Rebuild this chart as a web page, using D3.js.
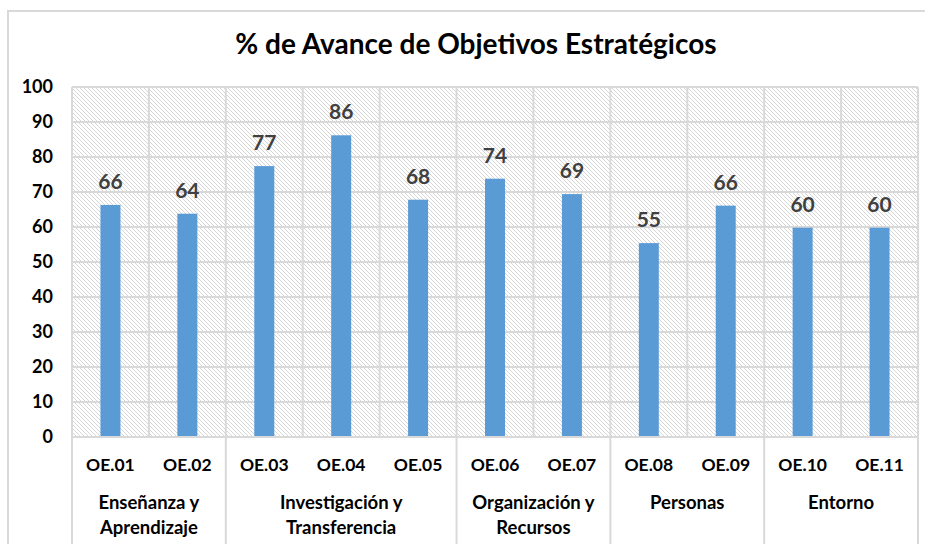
<!DOCTYPE html>
<html>
<head>
<meta charset="utf-8">
<script src="https://cdn.jsdelivr.net/npm/d3@7"></script>
<style>
  body { margin: 0; background: #fff; }
  text { font-family: Lato, 'Open Sans', sans-serif; font-weight: bold; }
</style>
</head>
<body>
<script>
const codes = ['OE.01', 'OE.02', 'OE.03', 'OE.04', 'OE.05', 'OE.06', 'OE.07', 'OE.08', 'OE.09', 'OE.10', 'OE.11']
const values = [66.3, 63.8, 77.4, 86.2, 67.8, 73.8, 69.4, 55.4, 66.1, 59.8, 59.8]
const groups = [['Enseñanza y', 'Aprendizaje'], ['Investigación y', 'Transferencia'], ['Organización y', 'Recursos'], ['Personas'], ['Entorno']]
const groupSizes = [2, 3, 2, 2, 2]
const yTicks = [0, 10, 20, 30, 40, 50, 60, 70, 80, 90, 100]

const W = 925, H = 544
const plotL = 72, plotR = 918, plotT = 87, plotB = 437

const svg = d3.select('body').append('svg').attr('width', W).attr('height', H)

// hatch fill for plot area
const pat = svg.append('defs').append('pattern')
    .attr('id', 'hatch')
    .attr('patternUnits', 'userSpaceOnUse')
    .attr('width', 4).attr('height', 4)
pat.append('path')
    .attr('d', 'M-1,-1 L5,5 M-1,3 L1,5 M3,-1 L5,1')
    .attr('stroke', '#d6d6d6')
    .attr('stroke-width', 1)

// outer chart border
svg.append('rect')
    .attr('x', 8).attr('y', 11).attr('width', 940).attr('height', 560)
    .attr('fill', 'none').attr('stroke', '#d9d9d9').attr('stroke-width', 2)

const x = d3.scaleBand().domain(codes).range([plotL, plotR]).paddingInner(0).paddingOuter(0)
const y = d3.scaleLinear().domain([0, 100]).range([plotB, plotT])

svg.append('rect')
    .attr('x', plotL).attr('y', plotT).attr('width', plotR - plotL).attr('height', plotB - plotT)
    .attr('fill', 'url(#hatch)')

// horizontal grid
svg.append('g').selectAll('line')
    .data(yTicks.filter(d => d > 0))
    .enter().append('line')
        .attr('x1', plotL).attr('x2', plotR)
        .attr('y1', d => y(d)).attr('y2', d => y(d))
        .attr('stroke', '#d9d9d9').attr('stroke-width', 2)

// vertical grid at category boundaries
svg.append('g').selectAll('line')
    .data(codes.concat(['end']))
    .enter().append('line')
        .attr('x1', (d, i) => plotL + i * x.bandwidth())
        .attr('x2', (d, i) => plotL + i * x.bandwidth())
        .attr('y1', plotT).attr('y2', plotB)
        .attr('stroke', '#d9d9d9').attr('stroke-width', 2)

// bars
svg.append('g').selectAll('rect')
    .data(values)
    .enter().append('rect')
        .attr('x', (d, i) => x(codes[i]) + x.bandwidth() / 2 - 10)
        .attr('y', d => y(d))
        .attr('width', 20)
        .attr('height', d => plotB - y(d))
        .attr('fill', '#5b9bd5')

// value labels
svg.append('g').selectAll('text')
    .data(values)
    .enter().append('text')
        .attr('x', (d, i) => x(codes[i]) + x.bandwidth() / 2)
        .attr('y', d => y(d) - 16)
        .attr('text-anchor', 'middle')
        .attr('font-size', 21)
        .attr('fill', '#404040')
        .text(d => Math.round(d))

// x axis line
svg.append('line')
    .attr('x1', plotL).attr('x2', plotR).attr('y1', plotB).attr('y2', plotB)
    .attr('stroke', '#d9d9d9').attr('stroke-width', 2)

// y tick labels
const yAxis = d3.axisLeft(y).tickValues(yTicks).tickSize(0).tickPadding(19)
const gy = svg.append('g').attr('transform', `translate(${plotL},0)`).call(yAxis)
gy.select('.domain').remove()
gy.selectAll('text').attr('font-size', 18).attr('fill', '#000')
    .style('font-family', 'Lato, sans-serif').style('font-weight', 'bold')

// category labels
svg.append('g').selectAll('text')
    .data(codes)
    .enter().append('text')
        .attr('x', d => x(d) + x.bandwidth() / 2)
        .attr('y', 471)
        .attr('text-anchor', 'middle')
        .attr('font-size', 17.5)
        .attr('fill', '#000')
        .text(d => d)

// group separators and labels
let start = 0
const bounds = [0]
groupSizes.forEach(n => { start += n; bounds.push(start) })

svg.append('g').selectAll('line')
    .data(bounds)
    .enter().append('line')
        .attr('x1', d => plotL + d * x.bandwidth())
        .attr('x2', d => plotL + d * x.bandwidth())
        .attr('y1', plotB).attr('y2', H)
        .attr('stroke', '#d9d9d9').attr('stroke-width', 2)

const gl = svg.append('g').selectAll('text')
    .data(groups)
    .enter().append('text')
        .attr('x', (d, i) => plotL + (bounds[i] + bounds[i + 1]) / 2 * x.bandwidth())
        .attr('y', 509)
        .attr('text-anchor', 'middle')
        .attr('font-size', 18.5)
        .attr('fill', '#000')
gl.selectAll('tspan')
    .data(d => d)
    .enter().append('tspan')
        .attr('x', function() { return d3.select(this.parentNode).attr('x') })
        .attr('dy', (d, i) => i === 0 ? 0 : 25)
        .text(d => d)

// title
svg.append('text')
    .attr('x', 476).attr('y', 54)
    .attr('text-anchor', 'middle')
    .attr('font-size', 28)
    .attr('fill', '#000')
    .text('% de Avance de Objetivos Estratégicos')
</script>
</body>
</html>
